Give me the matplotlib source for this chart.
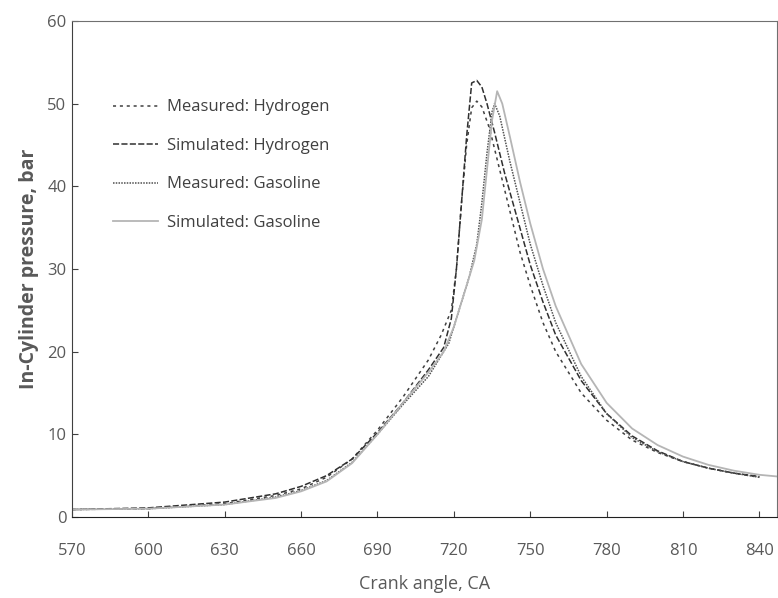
import matplotlib.pyplot as plt

# crank angle (deg CA) and in-cylinder pressure (bar)
meas_h2_x = [570, 600, 630, 650, 660, 670, 680, 690, 700, 710, 715, 719, 721, 723, 725, 727, 729, 731, 734, 738, 742, 746, 750, 755, 760, 770, 780, 790, 800, 810, 820, 830, 840]
meas_h2_y = [0.9, 1.0, 1.6, 2.6, 3.4, 4.8, 7.0, 10.5, 14.5, 19.0, 22.0, 25.0, 30.0, 38.0, 45.0, 49.5, 50.3, 49.6, 47.0, 42.0, 37.0, 32.0, 28.0, 23.5, 20.0, 15.0, 11.7, 9.3, 7.8, 6.7, 5.9, 5.3, 4.8]

sim_h2_x = [570, 600, 630, 650, 660, 670, 680, 690, 700, 710, 716, 719, 721, 723, 725, 727, 729, 731, 733, 736, 740, 745, 750, 755, 760, 770, 780, 790, 800, 810, 820, 830, 840]
sim_h2_y = [0.9, 1.1, 1.8, 2.8, 3.7, 5.0, 7.0, 10.2, 13.8, 17.8, 20.5, 24.0, 30.0, 38.0, 46.0, 52.5, 52.8, 52.0, 50.0, 46.5, 41.5, 36.0, 30.5, 26.0, 22.0, 16.5, 12.5, 9.8, 8.0, 6.7, 5.9, 5.3, 4.9]

meas_gas_x = [570, 600, 630, 650, 660, 670, 680, 690, 700, 710, 715, 718, 722, 726, 729, 731, 733, 735, 736, 738, 742, 746, 750, 755, 760, 770, 780, 790, 800, 810, 820, 830, 840]
meas_gas_y = [0.9, 1.0, 1.5, 2.4, 3.2, 4.4, 6.6, 10.0, 13.6, 17.0, 19.5, 21.0, 25.0, 29.0, 33.0, 38.0, 44.0, 49.0, 50.0, 48.5, 43.0, 38.0, 33.0, 28.0, 23.5, 17.0, 12.5, 9.6, 7.9, 6.7, 5.9, 5.3, 4.8]

sim_gas_x = [570, 600, 630, 650, 660, 670, 680, 690, 700, 710, 716, 720, 724, 728, 731, 733, 735, 737, 739, 742, 746, 750, 755, 760, 770, 780, 790, 800, 810, 820, 830, 840, 847]
sim_gas_y = [0.9, 1.0, 1.5, 2.3, 3.1, 4.3, 6.5, 10.0, 13.8, 17.5, 20.0, 23.0, 27.0, 31.0, 36.0, 42.0, 48.0, 51.5, 50.0, 46.0, 40.5, 35.5, 30.0, 25.5, 18.5, 13.8, 10.7, 8.7, 7.3, 6.3, 5.6, 5.1, 4.9]

x_ticks = [570, 600, 630, 660, 690, 720, 750, 780, 810, 840]
y_ticks = [0, 10, 20, 30, 40, 50, 60]

plt.rcParams['font.family'] = ['Open Sans', 'DejaVu Sans']
txt = '#595959'

fig = plt.figure(figsize=(7.78, 5.98), dpi=100)
ax = fig.add_axes([0.0925, 0.1355, 0.9065, 0.8295])

ax.plot(meas_h2_x, meas_h2_y, color='#404040', lw=1.1, dashes=(2, 2.5), label='Measured: Hydrogen')
ax.plot(sim_h2_x, sim_h2_y, color='#303030', lw=1.1, dashes=(4, 1.5), label='Simulated: Hydrogen')
ax.plot(meas_gas_x, meas_gas_y, color='#505050', lw=1.1, dashes=(1, 0.8), label='Measured: Gasoline')
ax.plot(sim_gas_x, sim_gas_y, color='#b5b5b5', lw=1.3, label='Simulated: Gasoline')

ax.set_xlim(570, 847)
ax.set_ylim(0, 60)
ax.set_xticks(x_ticks)
ax.set_yticks(y_ticks)
ax.tick_params(direction='in', length=4, labelsize=12, colors='#404040', labelcolor=txt)
ax.tick_params(axis='y', pad=4)
ax.tick_params(axis='x', pad=19)

for s in ['top', 'right']:
    ax.spines[s].set_color('#707070')
ax.spines['left'].set_color('#404040')
ax.spines['bottom'].set_color('#202020')

ax.set_xlabel('Crank angle, CA', fontsize=13, color=txt, labelpad=11)
ax.set_ylabel('In-Cylinder pressure, bar', fontsize=14, fontweight='bold', color=txt, labelpad=6)

leg = ax.legend(loc='upper left', bbox_to_anchor=(0.037, 0.872), frameon=False,
                fontsize=12, labelspacing=1.35, handlelength=2.7, handletextpad=0.55)
for t in leg.get_texts():
    t.set_color('#404040')

fig.savefig('out.png', dpi=100)
